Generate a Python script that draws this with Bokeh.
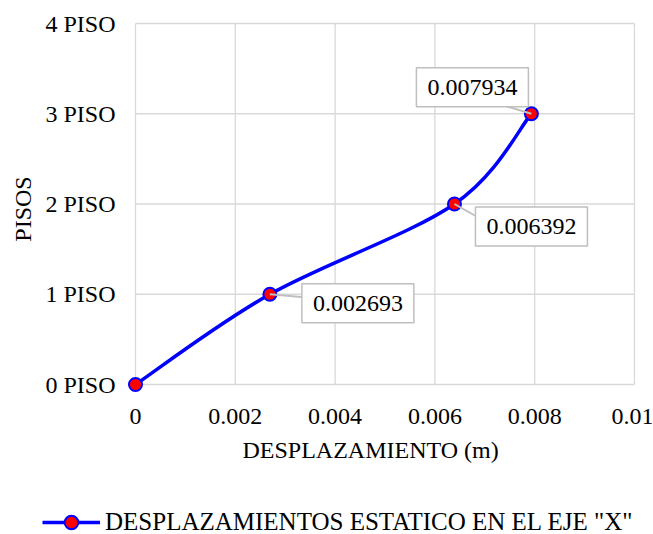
import numpy as np
from bokeh.plotting import figure
from bokeh.layouts import column
from bokeh.models import (FixedTicker, PrintfTickFormatter, Range1d, Label,
                          Legend, LegendItem, ColumnDataSource, Title)
from bokeh.embed import file_html
from bokeh.resources import INLINE

# Story displacements under static load, X direction
desplazamiento = [0.0, 0.002693, 0.006392, 0.007934]
pisos = [0, 1, 2, 3]
etiquetas_y = ["0 PISO", "1 PISO", "2 PISO", "3 PISO", "4 PISO"]
y_ticks = [0, 1, 2, 3, 4]
x_ticks = [0.0, 0.002, 0.004, 0.006, 0.008, 0.01]
serie = 'DESPLAZAMIENTOS ESTATICO EN EL EJE "X"'

FONT = "Liberation Serif"
FS = "24px"
GRID = "#d9d9d9"
BLUE = "#0000ff"
W = 653
MAIN_H, LEG_H = 490, 44

# plotting area: 499 x 361 px for 0..0.01 by 0..4, plus a little slack so
# that markers and edge grid lines are not clipped
PLOT_W, PLOT_H = 499, 361
X_MAX, Y_MAX = x_ticks[-1], y_ticks[-1]
px_x = PLOT_W / X_MAX
px_y = PLOT_H / Y_MAX
PAD_LO, PAD_HI = 15, 5
TOP, LEFT, RIGHT = 23, 135, 19

p = figure(width=W, height=MAIN_H, output_backend="svg", toolbar_location=None,
           x_range=Range1d(-PAD_LO / px_x, X_MAX + PAD_HI / px_x),
           y_range=Range1d(-PAD_LO / px_y, Y_MAX + PAD_HI / px_y),
           min_border_left=LEFT - PAD_LO, min_border_right=RIGHT - PAD_HI,
           min_border_top=TOP - PAD_HI,
           min_border_bottom=MAIN_H - TOP - PLOT_H - PAD_LO)
p.frame_align = False
p.outline_line_color = None
p.background_fill_color = "white"
p.border_fill_color = "white"
p.xgrid.visible = False
p.ygrid.visible = False

# axes
p.xaxis.ticker = FixedTicker(ticks=x_ticks)
p.xaxis.formatter = PrintfTickFormatter(format="%g")
p.yaxis.ticker = FixedTicker(ticks=y_ticks)
p.yaxis.major_label_overrides = {t: s for t, s in zip(y_ticks, etiquetas_y)}
for ax in (p.xaxis, p.yaxis):
    ax.axis_line_color = None
    ax.major_tick_line_color = None
    ax.minor_tick_line_color = None
    ax.major_tick_out = 0
    ax.major_tick_in = 0
    ax.major_label_text_font = FONT
    ax.major_label_text_font_size = FS
    ax.major_label_text_color = "black"
    ax.axis_label_text_font = FONT
    ax.axis_label_text_font_size = FS
    ax.axis_label_text_font_style = "normal"
    ax.axis_label_text_color = "black"
p.yaxis.axis_label = "PISOS"
p.xaxis.major_label_standoff = 9
p.yaxis.major_label_standoff = 5
p.yaxis.axis_label_standoff = 6

p.add_layout(Title(text="DESPLAZAMIENTO (m)", align="left", offset=122,
                   text_font=FONT, text_font_size=FS, text_font_style="normal",
                   text_color="black", standoff=16), "below")

# grid lines spanning exactly the axis extents
p.segment(x0=x_ticks, y0=[0] * len(x_ticks), x1=x_ticks, y1=[Y_MAX] * len(x_ticks),
          line_color=GRID, line_width=1.3)
p.segment(x0=[0] * len(y_ticks), y0=y_ticks, x1=[X_MAX] * len(y_ticks), y1=y_ticks,
          line_color=GRID, line_width=1.3)

# smoothed line: cubic Bezier segments with Catmull-Rom style control points
xs = np.array(desplazamiento)
ys = np.array(pisos, dtype=float)
n = len(xs)
def tangent(i):
    a = max(i - 1, 0)
    b = min(i + 1, n - 1)
    return (xs[b] - xs[a]) / 6.0, (ys[b] - ys[a]) / 6.0
seg = dict(x0=[], y0=[], x1=[], y1=[], cx0=[], cy0=[], cx1=[], cy1=[])
for i in range(n - 1):
    t0 = tangent(i)
    t1 = tangent(i + 1)
    seg["x0"].append(xs[i]); seg["y0"].append(ys[i])
    seg["x1"].append(xs[i + 1]); seg["y1"].append(ys[i + 1])
    seg["cx0"].append(xs[i] + t0[0]); seg["cy0"].append(ys[i] + t0[1])
    seg["cx1"].append(xs[i + 1] - t1[0]); seg["cy1"].append(ys[i + 1] - t1[1])
p.bezier(x0="x0", y0="y0", x1="x1", y1="y1", cx0="cx0", cy0="cy0",
         cx1="cx1", cy1="cy1", source=ColumnDataSource(seg),
         line_color=BLUE, line_width=3.5)

src = ColumnDataSource(dict(x=desplazamiento, y=pisos))
pts = p.scatter(x="x", y="y", source=src, size=13, fill_color="red",
                line_color=BLUE, line_width=2)

# callouts: box offset and leader end, in pixels relative to each point
box_off = [(88, -9), (77, -22.5), (-59, 26.5)]
lead_off = [(34, -3), (23, -13), (-27, 8)]
lx0, ly0, lx1, ly1 = [], [], [], []
for k, i in enumerate(range(1, n)):
    lx0.append(xs[i]); ly0.append(ys[i])
    lx1.append(xs[i] + lead_off[k][0] / px_x)
    ly1.append(ys[i] + lead_off[k][1] / px_y)
p.segment(x0=lx0, y0=ly0, x1=lx1, y1=ly1, line_color="#bfbfbf", line_width=2)

for k, i in enumerate(range(1, n)):
    p.add_layout(Label(x=xs[i], y=ys[i], x_offset=box_off[k][0],
                       y_offset=box_off[k][1], text=f"{desplazamiento[i]:.6f}",
                       text_font=FONT, text_font_size=FS, text_color="black",
                       text_align="center", text_baseline="middle",
                       background_fill_color="white",
                       border_line_color="#bfbfbf", border_line_width=1.5,
                       padding=dict(x=11, y=12)))

# legend strip underneath the chart (its ranges keep the series out of view,
# only the legend swatch is shown)
lg = figure(width=W, height=LEG_H, output_backend="svg", toolbar_location=None,
            x_range=Range1d(10, 11), y_range=Range1d(10, 11),
            x_axis_type=None, y_axis_type=None, min_border=0)
lg.frame_align = False
lg.outline_line_color = None
lg.xgrid.visible = False
lg.ygrid.visible = False
leg_line = lg.line(x="x", y="y", source=src, line_color=BLUE, line_width=3.5)
leg_pts = lg.scatter(x="x", y="y", source=src, size=13, fill_color="red",
                     line_color=BLUE, line_width=2)
legend = Legend(items=[LegendItem(label=serie, renderers=[leg_line, leg_pts])],
                location=(42, -5), orientation="horizontal",
                label_text_font=FONT, label_text_font_size="25px",
                label_text_color="black",
                glyph_width=58, glyph_height=34, label_height=20,
                padding=0, margin=0, label_standoff=5,
                border_line_color=None, background_fill_alpha=0)
lg.add_layout(legend, "center")

open("out.html", "w").write(file_html(column(p, lg, spacing=0), INLINE))
